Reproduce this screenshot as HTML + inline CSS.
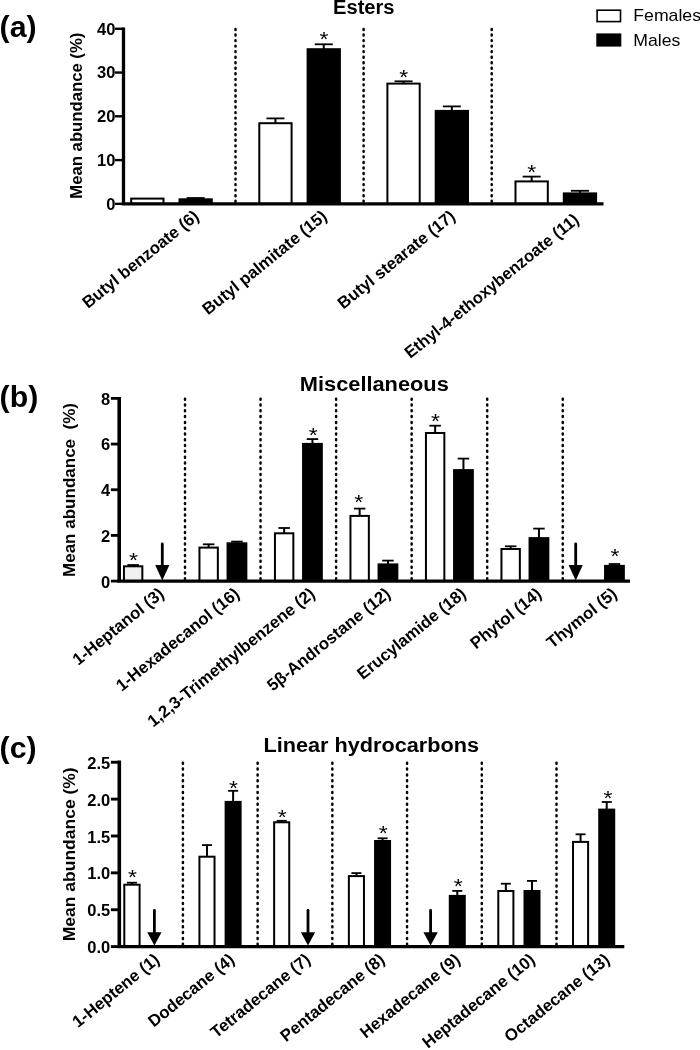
<!DOCTYPE html>
<html lang="en">
<head>
<meta charset="utf-8">
<title>Mean abundance of compounds in females and males</title>
<style>
html,body{margin:0;padding:0;background:#fff;}
body{width:700px;height:1050px;overflow:hidden;}
svg{display:block;font-family:'Liberation Sans', Arial, Helvetica, sans-serif;fill:#000;}
</style>
</head>
<body>
<svg width="700" height="1050" viewBox="0 0 700 1050">
<rect x="0" y="0" width="700" height="1050" fill="#fff"/>
<line x1="235.50" y1="29.05" x2="235.50" y2="203.85" stroke="#000" stroke-width="2.5" stroke-linecap="round" stroke-dasharray="0.9 4.64"/>
<line x1="363.60" y1="29.05" x2="363.60" y2="203.85" stroke="#000" stroke-width="2.5" stroke-linecap="round" stroke-dasharray="0.9 4.64"/>
<line x1="491.70" y1="29.05" x2="491.70" y2="203.85" stroke="#000" stroke-width="2.5" stroke-linecap="round" stroke-dasharray="0.9 4.64"/>
<rect x="131.20" y="198.60" width="32.30" height="5.25" fill="#fff" stroke="#000" stroke-width="2"/>
<line x1="195.65" y1="198.00" x2="195.65" y2="199.30" stroke="#000" stroke-width="2.0" />
<line x1="186.65" y1="198.00" x2="204.65" y2="198.00" stroke="#000" stroke-width="1.8" />
<rect x="178.50" y="198.30" width="34.30" height="5.55" fill="#000"/>
<line x1="275.45" y1="118.40" x2="275.45" y2="123.20" stroke="#000" stroke-width="2.0" />
<line x1="266.45" y1="118.40" x2="284.45" y2="118.40" stroke="#000" stroke-width="1.8" />
<rect x="259.30" y="123.20" width="32.30" height="80.65" fill="#fff" stroke="#000" stroke-width="2"/>
<line x1="323.75" y1="44.30" x2="323.75" y2="49.20" stroke="#000" stroke-width="2.0" />
<line x1="314.75" y1="44.30" x2="332.75" y2="44.30" stroke="#000" stroke-width="1.8" />
<rect x="306.60" y="48.20" width="34.30" height="155.65" fill="#000"/>
<line x1="403.55" y1="81.30" x2="403.55" y2="83.60" stroke="#000" stroke-width="2.0" />
<line x1="394.55" y1="81.30" x2="412.55" y2="81.30" stroke="#000" stroke-width="1.8" />
<rect x="387.40" y="83.60" width="32.30" height="120.25" fill="#fff" stroke="#000" stroke-width="2"/>
<line x1="451.85" y1="106.40" x2="451.85" y2="110.90" stroke="#000" stroke-width="2.0" />
<line x1="442.85" y1="106.40" x2="460.85" y2="106.40" stroke="#000" stroke-width="1.8" />
<rect x="434.70" y="109.90" width="34.30" height="93.95" fill="#000"/>
<line x1="531.65" y1="176.60" x2="531.65" y2="181.40" stroke="#000" stroke-width="2.0" />
<line x1="522.65" y1="176.60" x2="540.65" y2="176.60" stroke="#000" stroke-width="1.8" />
<rect x="515.50" y="181.40" width="32.30" height="22.45" fill="#fff" stroke="#000" stroke-width="2"/>
<line x1="579.95" y1="190.80" x2="579.95" y2="193.40" stroke="#000" stroke-width="2.0" />
<line x1="570.95" y1="190.80" x2="588.95" y2="190.80" stroke="#000" stroke-width="1.8" />
<rect x="562.80" y="192.40" width="34.30" height="11.45" fill="#000"/>
<text transform="translate(324.00,45.90) scale(1.18,1)" font-size="19.5" font-weight="normal" text-anchor="middle">*</text>
<text transform="translate(403.70,83.60) scale(1.18,1)" font-size="19.5" font-weight="normal" text-anchor="middle">*</text>
<text transform="translate(531.70,178.60) scale(1.18,1)" font-size="19.5" font-weight="normal" text-anchor="middle">*</text>
<line x1="123.50" y1="27.60" x2="123.50" y2="203.85" stroke="#000" stroke-width="3.3" />
<line x1="121.85" y1="203.85" x2="603.50" y2="203.85" stroke="#000" stroke-width="3.3" />
<line x1="115.00" y1="203.85" x2="123.50" y2="203.85" stroke="#000" stroke-width="2.4" />
<text x="115.40" y="209.75" font-size="16.5" font-weight="bold" text-anchor="end" >0</text>
<line x1="115.00" y1="160.08" x2="123.50" y2="160.08" stroke="#000" stroke-width="2.4" />
<text x="115.40" y="165.98" font-size="16.5" font-weight="bold" text-anchor="end" >10</text>
<line x1="115.00" y1="116.31" x2="123.50" y2="116.31" stroke="#000" stroke-width="2.4" />
<text x="115.40" y="122.21" font-size="16.5" font-weight="bold" text-anchor="end" >20</text>
<line x1="115.00" y1="72.54" x2="123.50" y2="72.54" stroke="#000" stroke-width="2.4" />
<text x="115.40" y="78.44" font-size="16.5" font-weight="bold" text-anchor="end" >30</text>
<line x1="115.00" y1="28.77" x2="123.50" y2="28.77" stroke="#000" stroke-width="2.4" />
<text x="115.40" y="34.67" font-size="16.5" font-weight="bold" text-anchor="end" >40</text>
<text transform="translate(81.70,115.70) rotate(-90)" font-size="16.8" font-weight="bold" text-anchor="middle" textLength="166" lengthAdjust="spacingAndGlyphs">Mean abundance (%)</text>
<text x="363.80" y="13.90" font-size="19.5" font-weight="bold" text-anchor="middle" textLength="61.5" lengthAdjust="spacingAndGlyphs">Esters</text>
<text x="-0.40" y="37.40" font-size="30.3" font-weight="bold" text-anchor="start" >(a)</text>
<text transform="translate(200.10,218.20) rotate(-39.0)" font-size="16.77" font-weight="bold" text-anchor="end">Butyl benzoate (6)</text>
<text transform="translate(328.20,218.20) rotate(-39.0)" font-size="16.77" font-weight="bold" text-anchor="end">Butyl palmitate (15)</text>
<text transform="translate(456.30,218.20) rotate(-39.0)" font-size="16.77" font-weight="bold" text-anchor="end">Butyl stearate (17)</text>
<text transform="translate(580.10,221.60) rotate(-39.0)" font-size="16.77" font-weight="bold" text-anchor="end" textLength="218.5" lengthAdjust="spacingAndGlyphs">Ethyl-4-ethoxybenzoate (11)</text>
<rect x="597.1" y="10.2" width="23.4" height="11.4" fill="#fff" stroke="#000" stroke-width="1.6"/>
<rect x="596.3" y="33.4" width="25" height="13.2" fill="#000"/>
<text x="633.30" y="21.40" font-size="17" font-weight="normal" text-anchor="start" textLength="67.7" lengthAdjust="spacingAndGlyphs">Females</text>
<text x="633.30" y="45.80" font-size="17" font-weight="normal" text-anchor="start" textLength="47.1" lengthAdjust="spacingAndGlyphs">Males</text>
<line x1="185.00" y1="398.75" x2="185.00" y2="581.10" stroke="#000" stroke-width="2.5" stroke-linecap="round" stroke-dasharray="1.0 4.79"/>
<line x1="260.55" y1="398.75" x2="260.55" y2="581.10" stroke="#000" stroke-width="2.5" stroke-linecap="round" stroke-dasharray="1.0 4.79"/>
<line x1="336.10" y1="398.75" x2="336.10" y2="581.10" stroke="#000" stroke-width="2.5" stroke-linecap="round" stroke-dasharray="1.0 4.79"/>
<line x1="411.65" y1="398.75" x2="411.65" y2="581.10" stroke="#000" stroke-width="2.5" stroke-linecap="round" stroke-dasharray="1.0 4.79"/>
<line x1="487.20" y1="398.75" x2="487.20" y2="581.10" stroke="#000" stroke-width="2.5" stroke-linecap="round" stroke-dasharray="1.0 4.79"/>
<line x1="562.75" y1="398.75" x2="562.75" y2="581.10" stroke="#000" stroke-width="2.5" stroke-linecap="round" stroke-dasharray="1.0 4.79"/>
<line x1="133.15" y1="565.00" x2="133.15" y2="566.30" stroke="#000" stroke-width="2.0" />
<line x1="127.40" y1="565.00" x2="138.90" y2="565.00" stroke="#000" stroke-width="1.8" />
<rect x="123.95" y="566.30" width="18.40" height="14.80" fill="#f0f0f0" stroke="#000" stroke-width="2"/>
<line x1="208.65" y1="544.30" x2="208.65" y2="547.60" stroke="#000" stroke-width="2.0" />
<line x1="202.90" y1="544.30" x2="214.40" y2="544.30" stroke="#000" stroke-width="1.8" />
<rect x="199.45" y="547.60" width="18.40" height="33.50" fill="#fff" stroke="#000" stroke-width="2"/>
<line x1="236.95" y1="541.60" x2="236.95" y2="543.30" stroke="#000" stroke-width="2.0" />
<line x1="231.20" y1="541.60" x2="242.70" y2="541.60" stroke="#000" stroke-width="1.8" />
<rect x="226.55" y="542.30" width="20.80" height="38.80" fill="#000"/>
<line x1="284.15" y1="528.00" x2="284.15" y2="533.30" stroke="#000" stroke-width="2.0" />
<line x1="278.40" y1="528.00" x2="289.90" y2="528.00" stroke="#000" stroke-width="1.8" />
<rect x="274.95" y="533.30" width="18.40" height="47.80" fill="#fff" stroke="#000" stroke-width="2"/>
<line x1="312.45" y1="439.10" x2="312.45" y2="443.90" stroke="#000" stroke-width="2.0" />
<line x1="306.70" y1="439.10" x2="318.20" y2="439.10" stroke="#000" stroke-width="1.8" />
<rect x="302.05" y="442.90" width="20.80" height="138.20" fill="#000"/>
<line x1="359.65" y1="508.60" x2="359.65" y2="515.90" stroke="#000" stroke-width="2.0" />
<line x1="353.90" y1="508.60" x2="365.40" y2="508.60" stroke="#000" stroke-width="1.8" />
<rect x="350.45" y="515.90" width="18.40" height="65.20" fill="#fff" stroke="#000" stroke-width="2"/>
<line x1="387.95" y1="560.60" x2="387.95" y2="564.40" stroke="#000" stroke-width="2.0" />
<line x1="382.20" y1="560.60" x2="393.70" y2="560.60" stroke="#000" stroke-width="1.8" />
<rect x="377.55" y="563.40" width="20.80" height="17.70" fill="#000"/>
<line x1="435.15" y1="425.70" x2="435.15" y2="433.00" stroke="#000" stroke-width="2.0" />
<line x1="429.40" y1="425.70" x2="440.90" y2="425.70" stroke="#000" stroke-width="1.8" />
<rect x="425.95" y="433.00" width="18.40" height="148.10" fill="#fff" stroke="#000" stroke-width="2"/>
<line x1="463.45" y1="458.60" x2="463.45" y2="470.10" stroke="#000" stroke-width="2.0" />
<line x1="457.70" y1="458.60" x2="469.20" y2="458.60" stroke="#000" stroke-width="1.8" />
<rect x="453.05" y="469.10" width="20.80" height="112.00" fill="#000"/>
<line x1="510.65" y1="546.30" x2="510.65" y2="549.00" stroke="#000" stroke-width="2.0" />
<line x1="504.90" y1="546.30" x2="516.40" y2="546.30" stroke="#000" stroke-width="1.8" />
<rect x="501.45" y="549.00" width="18.40" height="32.10" fill="#fff" stroke="#000" stroke-width="2"/>
<line x1="538.95" y1="528.60" x2="538.95" y2="538.10" stroke="#000" stroke-width="2.0" />
<line x1="533.20" y1="528.60" x2="544.70" y2="528.60" stroke="#000" stroke-width="1.8" />
<rect x="528.55" y="537.10" width="20.80" height="44.00" fill="#000"/>
<line x1="614.45" y1="564.00" x2="614.45" y2="565.90" stroke="#000" stroke-width="2.0" />
<line x1="608.70" y1="564.00" x2="620.20" y2="564.00" stroke="#000" stroke-width="1.8" />
<rect x="604.05" y="564.90" width="20.80" height="16.20" fill="#000"/>
<line x1="162.30" y1="543.80" x2="162.30" y2="566.00" stroke="#000" stroke-width="2.8" stroke-linecap="round"/>
<polygon points="155.20,565.00 169.40,565.00 162.30,580.50" fill="#000"/>
<line x1="575.70" y1="543.80" x2="575.70" y2="566.00" stroke="#000" stroke-width="2.8" stroke-linecap="round"/>
<polygon points="568.60,565.00 582.80,565.00 575.70,580.50" fill="#000"/>
<text transform="translate(133.50,567.20) scale(1.18,1)" font-size="19.5" font-weight="normal" text-anchor="middle">*</text>
<text transform="translate(313.30,441.60) scale(1.18,1)" font-size="19.5" font-weight="normal" text-anchor="middle">*</text>
<text transform="translate(358.70,508.80) scale(1.18,1)" font-size="19.5" font-weight="normal" text-anchor="middle">*</text>
<text transform="translate(435.50,427.60) scale(1.18,1)" font-size="19.5" font-weight="normal" text-anchor="middle">*</text>
<text transform="translate(615.00,563.40) scale(1.18,1)" font-size="19.5" font-weight="normal" text-anchor="middle">*</text>
<line x1="119.20" y1="397.00" x2="119.20" y2="581.10" stroke="#000" stroke-width="3.6" />
<line x1="117.40" y1="581.10" x2="630.00" y2="581.10" stroke="#000" stroke-width="3.2" />
<line x1="110.90" y1="581.10" x2="119.20" y2="581.10" stroke="#000" stroke-width="2.8" />
<text x="110.30" y="587.50" font-size="16.5" font-weight="bold" text-anchor="end" >0</text>
<line x1="110.90" y1="535.42" x2="119.20" y2="535.42" stroke="#000" stroke-width="2.8" />
<text x="110.30" y="541.82" font-size="16.5" font-weight="bold" text-anchor="end" >2</text>
<line x1="110.90" y1="489.74" x2="119.20" y2="489.74" stroke="#000" stroke-width="2.8" />
<text x="110.30" y="496.14" font-size="16.5" font-weight="bold" text-anchor="end" >4</text>
<line x1="110.90" y1="444.06" x2="119.20" y2="444.06" stroke="#000" stroke-width="2.8" />
<text x="110.30" y="450.46" font-size="16.5" font-weight="bold" text-anchor="end" >6</text>
<line x1="110.90" y1="398.38" x2="119.20" y2="398.38" stroke="#000" stroke-width="2.8" />
<text x="110.30" y="404.78" font-size="16.5" font-weight="bold" text-anchor="end" >8</text>
<text transform="translate(75.30,490.00) rotate(-90)" font-size="16.8" font-weight="bold" text-anchor="middle" textLength="174" lengthAdjust="spacingAndGlyphs">Mean abundance &#160;(%)</text>
<text x="374.30" y="390.80" font-size="20" font-weight="bold" text-anchor="middle" textLength="149" lengthAdjust="spacingAndGlyphs">Miscellaneous</text>
<text x="-0.40" y="406.80" font-size="30.3" font-weight="bold" text-anchor="start" >(b)</text>
<text transform="translate(165.05,595.70) rotate(-39.0)" font-size="16.77" font-weight="bold" text-anchor="end">1-Heptanol (3)</text>
<text transform="translate(240.55,595.70) rotate(-39.0)" font-size="16.77" font-weight="bold" text-anchor="end">1-Hexadecanol (16)</text>
<text transform="translate(316.05,595.70) rotate(-39.0)" font-size="16.77" font-weight="bold" text-anchor="end">1,2,3-Trimethylbenzene (2)</text>
<text transform="translate(391.55,595.70) rotate(-39.0)" font-size="16.77" font-weight="bold" text-anchor="end">5β-Androstane (12)</text>
<text transform="translate(467.05,595.70) rotate(-39.0)" font-size="16.77" font-weight="bold" text-anchor="end">Erucylamide (18)</text>
<text transform="translate(542.55,595.70) rotate(-39.0)" font-size="16.77" font-weight="bold" text-anchor="end">Phytol (14)</text>
<text transform="translate(618.05,595.70) rotate(-39.0)" font-size="16.77" font-weight="bold" text-anchor="end">Thymol (5)</text>
<line x1="182.90" y1="762.75" x2="182.90" y2="946.60" stroke="#000" stroke-width="2.5" stroke-linecap="round" stroke-dasharray="1.0 4.84"/>
<line x1="257.62" y1="762.75" x2="257.62" y2="946.60" stroke="#000" stroke-width="2.5" stroke-linecap="round" stroke-dasharray="1.0 4.84"/>
<line x1="332.34" y1="762.75" x2="332.34" y2="946.60" stroke="#000" stroke-width="2.5" stroke-linecap="round" stroke-dasharray="1.0 4.84"/>
<line x1="407.06" y1="762.75" x2="407.06" y2="946.60" stroke="#000" stroke-width="2.5" stroke-linecap="round" stroke-dasharray="1.0 4.84"/>
<line x1="481.78" y1="762.75" x2="481.78" y2="946.60" stroke="#000" stroke-width="2.5" stroke-linecap="round" stroke-dasharray="1.0 4.84"/>
<line x1="556.50" y1="762.75" x2="556.50" y2="946.60" stroke="#000" stroke-width="2.5" stroke-linecap="round" stroke-dasharray="1.0 4.84"/>
<line x1="131.95" y1="882.70" x2="131.95" y2="884.70" stroke="#000" stroke-width="2.0" />
<line x1="126.95" y1="882.70" x2="136.95" y2="882.70" stroke="#000" stroke-width="1.8" />
<rect x="124.30" y="884.70" width="15.30" height="61.90" fill="#fff" stroke="#000" stroke-width="2"/>
<line x1="206.97" y1="845.10" x2="206.97" y2="856.70" stroke="#000" stroke-width="2.0" />
<line x1="201.97" y1="845.10" x2="211.97" y2="845.10" stroke="#000" stroke-width="1.8" />
<rect x="199.42" y="856.70" width="15.10" height="89.90" fill="#fff" stroke="#000" stroke-width="2"/>
<line x1="233.12" y1="790.80" x2="233.12" y2="801.90" stroke="#000" stroke-width="2.0" />
<line x1="228.12" y1="790.80" x2="238.12" y2="790.80" stroke="#000" stroke-width="1.8" />
<rect x="224.62" y="800.90" width="17.00" height="145.70" fill="#000"/>
<line x1="281.69" y1="820.80" x2="281.69" y2="822.30" stroke="#000" stroke-width="2.0" />
<line x1="276.69" y1="820.80" x2="286.69" y2="820.80" stroke="#000" stroke-width="1.8" />
<rect x="274.14" y="822.30" width="15.10" height="124.30" fill="#fff" stroke="#000" stroke-width="2"/>
<line x1="356.41" y1="873.10" x2="356.41" y2="876.10" stroke="#000" stroke-width="2.0" />
<line x1="351.41" y1="873.10" x2="361.41" y2="873.10" stroke="#000" stroke-width="1.8" />
<rect x="348.86" y="876.10" width="15.10" height="70.50" fill="#fff" stroke="#000" stroke-width="2"/>
<line x1="382.56" y1="838.30" x2="382.56" y2="841.00" stroke="#000" stroke-width="2.0" />
<line x1="377.56" y1="838.30" x2="387.56" y2="838.30" stroke="#000" stroke-width="1.8" />
<rect x="374.06" y="840.00" width="17.00" height="106.60" fill="#000"/>
<line x1="457.28" y1="890.90" x2="457.28" y2="895.90" stroke="#000" stroke-width="2.0" />
<line x1="452.28" y1="890.90" x2="462.28" y2="890.90" stroke="#000" stroke-width="1.8" />
<rect x="448.78" y="894.90" width="17.00" height="51.70" fill="#000"/>
<line x1="505.85" y1="883.70" x2="505.85" y2="891.00" stroke="#000" stroke-width="2.0" />
<line x1="500.85" y1="883.70" x2="510.85" y2="883.70" stroke="#000" stroke-width="1.8" />
<rect x="498.30" y="891.00" width="15.10" height="55.60" fill="#fff" stroke="#000" stroke-width="2"/>
<line x1="532.00" y1="880.90" x2="532.00" y2="891.00" stroke="#000" stroke-width="2.0" />
<line x1="527.00" y1="880.90" x2="537.00" y2="880.90" stroke="#000" stroke-width="1.8" />
<rect x="523.50" y="890.00" width="17.00" height="56.60" fill="#000"/>
<line x1="580.57" y1="834.30" x2="580.57" y2="841.90" stroke="#000" stroke-width="2.0" />
<line x1="575.57" y1="834.30" x2="585.57" y2="834.30" stroke="#000" stroke-width="1.8" />
<rect x="573.02" y="841.90" width="15.10" height="104.70" fill="#fff" stroke="#000" stroke-width="2"/>
<line x1="606.72" y1="802.00" x2="606.72" y2="809.60" stroke="#000" stroke-width="2.0" />
<line x1="601.72" y1="802.00" x2="611.72" y2="802.00" stroke="#000" stroke-width="1.8" />
<rect x="598.22" y="808.60" width="17.00" height="138.00" fill="#000"/>
<line x1="154.40" y1="910.30" x2="154.40" y2="933.20" stroke="#000" stroke-width="2.8" stroke-linecap="round"/>
<polygon points="147.25,932.20 161.55,932.20 154.40,945.60" fill="#000"/>
<line x1="308.00" y1="910.30" x2="308.00" y2="933.20" stroke="#000" stroke-width="2.8" stroke-linecap="round"/>
<polygon points="300.85,932.20 315.15,932.20 308.00,945.60" fill="#000"/>
<line x1="430.60" y1="910.30" x2="430.60" y2="933.20" stroke="#000" stroke-width="2.8" stroke-linecap="round"/>
<polygon points="423.45,932.20 437.75,932.20 430.60,945.60" fill="#000"/>
<text transform="translate(132.50,883.90) scale(1.18,1)" font-size="19.5" font-weight="normal" text-anchor="middle">*</text>
<text transform="translate(233.40,794.90) scale(1.18,1)" font-size="19.5" font-weight="normal" text-anchor="middle">*</text>
<text transform="translate(282.30,824.40) scale(1.18,1)" font-size="19.5" font-weight="normal" text-anchor="middle">*</text>
<text transform="translate(383.30,840.10) scale(1.18,1)" font-size="19.5" font-weight="normal" text-anchor="middle">*</text>
<text transform="translate(458.10,893.40) scale(1.18,1)" font-size="19.5" font-weight="normal" text-anchor="middle">*</text>
<text transform="translate(607.90,804.70) scale(1.18,1)" font-size="19.5" font-weight="normal" text-anchor="middle">*</text>
<line x1="119.30" y1="760.55" x2="119.30" y2="946.60" stroke="#000" stroke-width="3.6" />
<line x1="117.50" y1="946.60" x2="624.30" y2="946.60" stroke="#000" stroke-width="3.3" />
<line x1="110.90" y1="946.60" x2="119.30" y2="946.60" stroke="#000" stroke-width="2.9" />
<text x="110.30" y="953.20" font-size="16.5" font-weight="bold" text-anchor="end" >0.0</text>
<line x1="110.90" y1="909.73" x2="119.30" y2="909.73" stroke="#000" stroke-width="2.9" />
<text x="110.30" y="916.33" font-size="16.5" font-weight="bold" text-anchor="end" >0.5</text>
<line x1="110.90" y1="872.86" x2="119.30" y2="872.86" stroke="#000" stroke-width="2.9" />
<text x="110.30" y="879.46" font-size="16.5" font-weight="bold" text-anchor="end" >1.0</text>
<line x1="110.90" y1="835.99" x2="119.30" y2="835.99" stroke="#000" stroke-width="2.9" />
<text x="110.30" y="842.59" font-size="16.5" font-weight="bold" text-anchor="end" >1.5</text>
<line x1="110.90" y1="799.12" x2="119.30" y2="799.12" stroke="#000" stroke-width="2.9" />
<text x="110.30" y="805.72" font-size="16.5" font-weight="bold" text-anchor="end" >2.0</text>
<line x1="110.90" y1="762.25" x2="119.30" y2="762.25" stroke="#000" stroke-width="2.9" />
<text x="110.30" y="768.85" font-size="16.5" font-weight="bold" text-anchor="end" >2.5</text>
<text transform="translate(75.30,854.30) rotate(-90)" font-size="16.8" font-weight="bold" text-anchor="middle" textLength="174" lengthAdjust="spacingAndGlyphs">Mean abundance (%)</text>
<text x="371.20" y="752.40" font-size="20" font-weight="bold" text-anchor="middle" textLength="215.5" lengthAdjust="spacingAndGlyphs">Linear hydrocarbons</text>
<text x="-0.40" y="758.10" font-size="30.3" font-weight="bold" text-anchor="start" >(c)</text>
<text transform="translate(160.60,961.50) rotate(-39.0)" font-size="16.77" font-weight="bold" text-anchor="end">1-Heptene (1)</text>
<text transform="translate(235.62,961.50) rotate(-39.0)" font-size="16.77" font-weight="bold" text-anchor="end">Dodecane (4)</text>
<text transform="translate(311.54,961.50) rotate(-39.0)" font-size="16.77" font-weight="bold" text-anchor="end">Tetradecane (7)</text>
<text transform="translate(385.96,961.50) rotate(-39.0)" font-size="16.77" font-weight="bold" text-anchor="end">Pentadecane (8)</text>
<text transform="translate(461.28,961.50) rotate(-39.0)" font-size="16.77" font-weight="bold" text-anchor="end">Hexadecane (9)</text>
<text transform="translate(536.00,961.50) rotate(-39.0)" font-size="16.77" font-weight="bold" text-anchor="end">Heptadecane (10)</text>
<text transform="translate(610.72,961.50) rotate(-39.0)" font-size="16.77" font-weight="bold" text-anchor="end">Octadecane (13)</text>
</svg>
</body>
</html>
